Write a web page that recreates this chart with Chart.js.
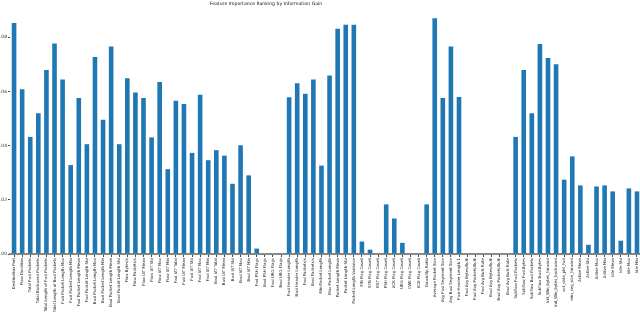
<!DOCTYPE html>
<html>
<head>
<meta charset="utf-8">
<script src="https://cdn.jsdelivr.net/npm/chart.js@4.4.1/dist/chart.umd.min.js"></script>
<style>
html,body{margin:0;padding:0;background:#fff;}
#wrap{position:relative;width:640px;height:320px;overflow:hidden;}
canvas{display:block;position:absolute;top:0;left:0;}
</style>
</head>
<body>
<div id="wrap"><canvas id="c" width="660" height="320"></canvas></div>
<script>
const chartTitle = "Feature Importance Ranking by Information Gain";
const features = [
"Destination Port","Flow Duration","Total Fwd Packets","Total Backward Packets",
"Total Length of Fwd Packets","Total Length of Bwd Packets","Fwd Packet Length Max","Fwd Packet Length Min",
"Fwd Packet Length Mean","Fwd Packet Length Std","Bwd Packet Length Max","Bwd Packet Length Min",
"Bwd Packet Length Mean","Bwd Packet Length Std","Flow Bytes/s","Flow Packets/s",
"Flow IAT Mean","Flow IAT Std","Flow IAT Max","Flow IAT Min",
"Fwd IAT Total","Fwd IAT Mean","Fwd IAT Std","Fwd IAT Max","Fwd IAT Min",
"Bwd IAT Total","Bwd IAT Mean","Bwd IAT Std","Bwd IAT Max","Bwd IAT Min",
"Fwd PSH Flags","Bwd PSH Flags","Fwd URG Flags","Bwd URG Flags",
"Fwd Header Length","Bwd Header Length","Fwd Packets/s","Bwd Packets/s",
"Min Packet Length","Max Packet Length","Packet Length Mean","Packet Length Std","Packet Length Variance",
"FIN Flag Count","SYN Flag Count","RST Flag Count","PSH Flag Count","ACK Flag Count",
"URG Flag Count","CWE Flag Count","ECE Flag Count","Down/Up Ratio","Average Packet Size",
"Avg Fwd Segment Size","Avg Bwd Segment Size","Fwd Header Length.1",
"Fwd Avg Bytes/Bulk","Fwd Avg Packets/Bulk","Fwd Avg Bulk Rate",
"Bwd Avg Bytes/Bulk","Bwd Avg Packets/Bulk","Bwd Avg Bulk Rate",
"Subflow Fwd Packets","Subflow Fwd Bytes","Subflow Bwd Packets","Subflow Bwd Bytes",
"Init_Win_bytes_forward","Init_Win_bytes_backward","act_data_pkt_fwd","min_seg_size_forward",
"Active Mean","Active Std","Active Max","Active Min",
"Idle Mean","Idle Std","Idle Max","Idle Min"
];
const infoGain = [
0.0852,0.0608,0.0432,0.0519,0.0679,0.0776,0.0644,0.0328,
0.0575,0.0405,0.0727,0.0495,0.0765,0.0405,0.0648,0.0596,
0.0575,0.0430,0.0634,0.0313,0.0565,0.0553,0.0373,0.0587,0.0346,
0.0383,0.0363,0.0259,0.0401,0.0290,
0.0020,0,0,0,
0.0578,0.0630,0.0591,0.0644,
0.0326,0.0658,0.0831,0.0846,0.0846,
0.0046,0.0016,0,0.0183,0.0131,
0.0041,0,0,0.0183,0.0870,
0.0575,0.0765,0.0579,
0,0,0,0,0,0,
0.0432,0.0679,0.0519,0.0775,
0.0723,0.0700,0.0274,0.0360,
0.0253,0.0034,0.0249,0.0253,
0.0231,0.0049,0.0242,0.0231
];
const yTickStep = 0.02;
const yMax = 0.09;

const canvas = document.getElementById('c');
let shift = 0;

const titlePlugin = {
  id: 'customTitle',
  afterDraw(chart){
    const ctx = chart.ctx;
    ctx.save();
    ctx.font = '4.6px "DejaVu Sans"';
    ctx.fillStyle = '#111';
    ctx.textAlign = 'center';
    ctx.textBaseline = 'middle';
    ctx.fillText(chartTitle, 266 + shift, 4);
    ctx.restore();
  }
};

const chart = new Chart(canvas, {
  type: 'bar',
  data: {
    labels: features,
    datasets: [{
      data: infoGain,
      backgroundColor: '#1f77b4',
      borderWidth: 0,
      barPercentage: 0.57,
      categoryPercentage: 1.0
    }]
  },
  options: {
    responsive: false,
    animation: false,
    devicePixelRatio: 1,
    layout: { padding: { top: 10, right: 0, left: 0, bottom: 0 } },
    plugins: { legend: { display: false }, title: { display: false }, tooltip: { enabled: false } },
    scales: {
      x: {
        offset: true,
        grid: { display: true, drawOnChartArea: false, drawTicks: true, tickLength: 3, color: '#444', offset: false },
        border: { display: true, color: '#888', width: 2 },
        ticks: {
          autoSkip: false, maxRotation: 90, minRotation: 90,
          font: { size: 3.9, family: 'DejaVu Sans' }, color: '#222', padding: 1
        },
        afterFit(scale){ scale.height = 66; }
      },
      y: {
        min: 0, max: yMax,
        grid: { display: true, drawOnChartArea: false, drawTicks: true, tickLength: 2, color: '#444' },
        border: { display: false },
        ticks: {
          stepSize: yTickStep,
          autoSkip: false,
          font: { size: 4.5, family: 'DejaVu Sans' }, color: '#333', padding: 1,
          callback: (v) => {
            const k = Math.round(v / yTickStep);
            return Math.abs(k * yTickStep - v) < 1e-9 ? (k * yTickStep).toFixed(2) : null;
          }
        }
      }
    }
  },
  plugins: [titlePlugin]
});

// Crop like the reference: place the plot's left edge at x=10 and its right edge at x=641.
const L = chart.chartArea.left;
shift = Math.max(0, L - 10);
chart.options.layout.padding.right = Math.max(0, 660 - shift - 641);
canvas.style.left = (-shift) + 'px';
chart.update();
</script>
</body>
</html>
